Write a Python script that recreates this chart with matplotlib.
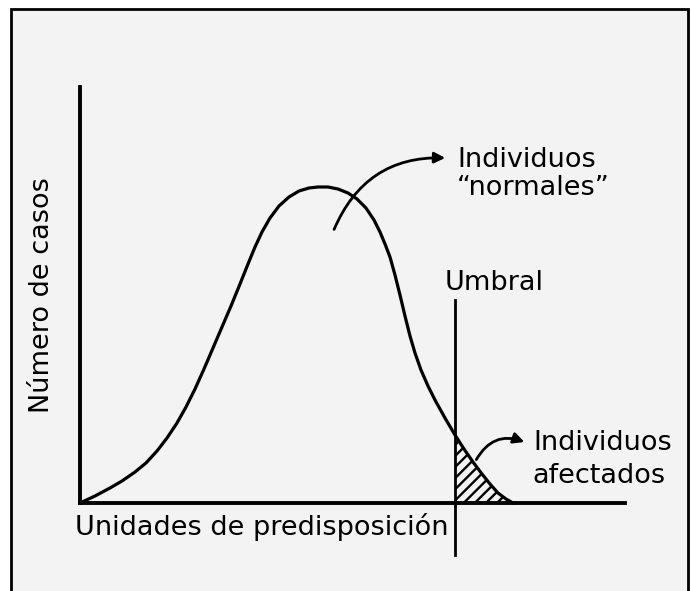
import matplotlib
matplotlib.use("Agg")
import matplotlib.pyplot as plt
from matplotlib.patches import Rectangle, FancyArrowPatch

# Datos (unidades arbitrarias, origen en el cruce de ejes)
curva_x = [0, 15, 30, 42, 55, 66, 77, 87, 97, 106, 115, 124, 133, 142, 151,
           160, 168, 175, 182, 190, 199, 209, 219, 229, 238, 248, 258, 268,
           277, 286, 294, 300, 305, 310, 315, 320, 325, 330, 335, 341, 348,
           355, 365, 375, 384, 393, 402, 410, 418, 426, 433]
curva_y = [0, 7, 15, 22, 31, 40, 52, 65, 80, 96, 114, 134, 155, 176, 197,
           219, 239, 256, 271, 285, 297, 306, 312, 315, 316, 316, 314, 310,
           304, 295, 283, 271, 259, 246, 228, 208, 187, 167, 150, 133, 117,
           103, 85, 68, 54, 41, 29, 19, 10, 4, 0]
umbral = 375
x_max = 545
y_max = 416

etiqueta_x = "Unidades de predisposición"
etiqueta_y = "Número de casos"
texto_umbral = "Umbral"
texto_normales = ["Individuos", "\u201cnormales\u201d"]
texto_afectados = ["Individuos", "afectados"]

W, H = 691, 591
fig = plt.figure(figsize=(W / 100, H / 100), dpi=100)
fig.patch.set_facecolor("white")

# marco del escaneo
fig.patches.append(Rectangle((11 / W, -0.05), 677 / W, (582 / H) + 0.05,
                             transform=fig.transFigure, facecolor="#f3f3f3",
                             edgecolor="black", linewidth=2, zorder=-10))

ax = fig.add_axes([80 / W, (H - 503) / H, x_max / W, y_max / H])
ax.set_facecolor("none")
ax.set_xlim(0, x_max)
ax.set_ylim(0, y_max)
for s in ["top", "right"]:
    ax.spines[s].set_visible(False)
for s in ["left", "bottom"]:
    ax.spines[s].set_linewidth(2.8)
ax.set_xticks([])
ax.set_yticks([])

# curva
ax.plot(curva_x, curva_y, color="black", linewidth=2.3, clip_on=False,
        solid_capstyle="round", solid_joinstyle="round")

# zona afectada (rayada)
xs = [x for x in curva_x if x >= umbral]
ys = [y for x, y in zip(curva_x, curva_y) if x >= umbral]
plt.rcParams["hatch.linewidth"] = 1.7
ax.fill_between(xs, 0, ys, facecolor="none", edgecolor="black",
                hatch="///", linewidth=0)

# linea del umbral
ax.plot([umbral, umbral], [-52, 203], color="black", linewidth=2,
        clip_on=False)

# flechas
flecha1 = FancyArrowPatch((253, 271), (368, 345),
                          connectionstyle="arc3,rad=-0.35",
                          arrowstyle="-|>", mutation_scale=16,
                          color="black", linewidth=2, clip_on=False)
ax.add_patch(flecha1)
flecha2 = FancyArrowPatch((395, 41), (447, 60),
                          connectionstyle="arc3,rad=-0.45",
                          arrowstyle="-|>", mutation_scale=16,
                          color="black", linewidth=2, clip_on=False)
ax.add_patch(flecha2)

fs = 19.5
ax.text(377, 336, texto_normales[0], fontsize=fs, va="baseline",
        ha="left", clip_on=False)
ax.text(377, 308, texto_normales[1], fontsize=fs, va="baseline",
        ha="left", clip_on=False)
ax.text(365, 213, texto_umbral, fontsize=fs, va="baseline", ha="left",
        clip_on=False)
ax.text(453, 53, texto_afectados[0], fontsize=fs, va="baseline",
        ha="left", clip_on=False)
ax.text(452, 20, texto_afectados[1], fontsize=fs, va="baseline",
        ha="left", clip_on=False)
ax.text(-5, -32, etiqueta_x, fontsize=fs, va="baseline", ha="left",
        clip_on=False)
ax.text(-38, 208, etiqueta_y, fontsize=fs, va="center", ha="center",
        rotation=90, clip_on=False)

fig.savefig("out.png", dpi=100)
